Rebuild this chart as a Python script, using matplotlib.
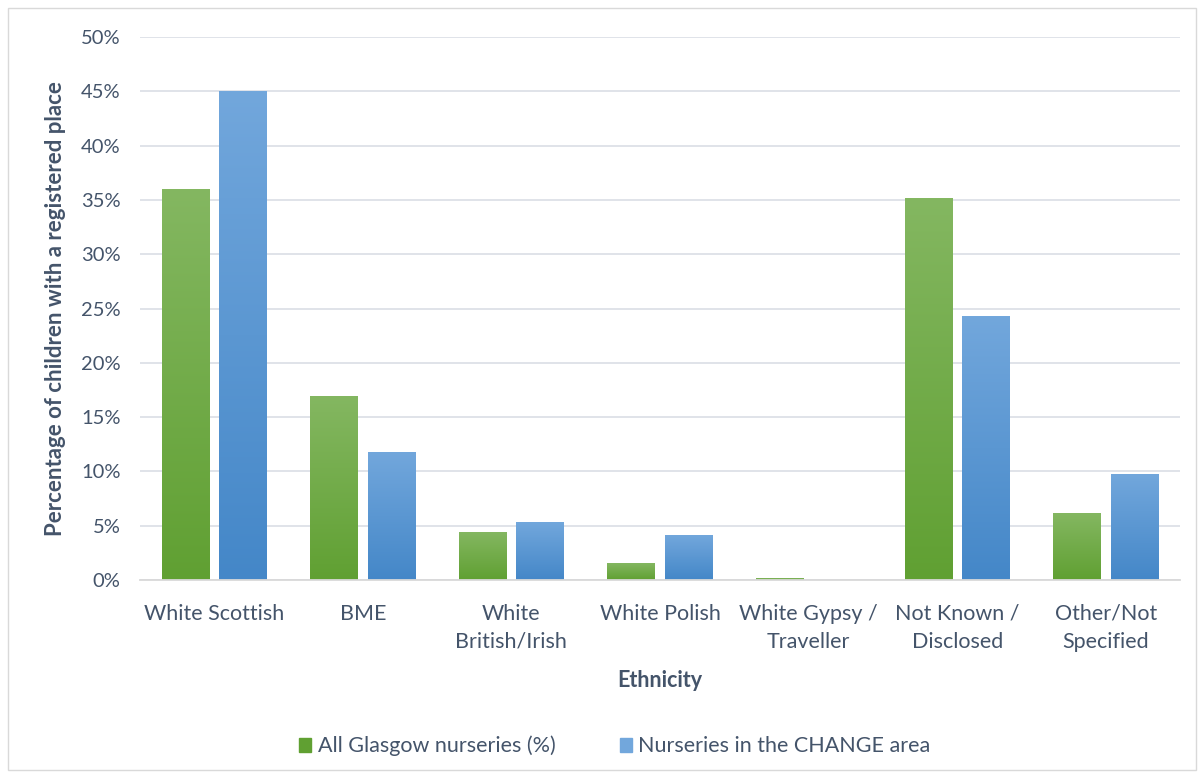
import matplotlib
matplotlib.use("Agg")
import matplotlib.pyplot as plt
import matplotlib.patches as mpatches
from matplotlib.colors import LinearSegmentedColormap
from matplotlib.ticker import FuncFormatter, MultipleLocator
import numpy as np

plt.rcParams["font.family"] = ["Lato", "DejaVu Sans"]

categories = [
    "White Scottish", "BME", "White\nBritish/Irish", "White Polish",
    "White Gypsy /\nTraveller", "Not Known /\nDisclosed", "Other/Not\nSpecified",
]
glasgow_pct = [36.0, 16.9, 4.4, 1.5, 0.1, 35.1, 6.1]
change_pct = [45.0, 11.7, 5.3, 4.1, 0.0, 24.3, 9.7]
series_names = ["All Glasgow nurseries (%)", "Nurseries in the CHANGE area"]

TEXT = "#44546A"
GRID = "#DDE1E7"
GREEN = ("#84B761", "#60A032")
BLUE = ("#72A7DC", "#4487C8")

fig = plt.figure(figsize=(12.04, 7.78), dpi=100)
ax = fig.add_axes([140 / 1204, 1 - 580 / 778, 1040 / 1204, 543 / 778])

x = np.arange(len(categories))
width = 0.32
gap = 0.067
offsets = [-(width + gap) / 2, (width + gap) / 2]

# vertical gradient fill, lighter at the top of each bar
grad = np.linspace(1, 0, 256).reshape(-1, 1)
for vals, off, cols, name in zip([glasgow_pct, change_pct], offsets, [GREEN, BLUE], series_names):
    cmap = LinearSegmentedColormap.from_list(name, [cols[1], cols[0]])
    bars = ax.bar(x + off, vals, width, color="none", edgecolor="none", zorder=2)
    for b in bars:
        h = b.get_height()
        if h <= 0:
            continue
        ax.imshow(grad, cmap=cmap, aspect="auto", zorder=2,
                  extent=[b.get_x(), b.get_x() + b.get_width(), 0, h],
                  vmin=0, vmax=1)

ax.set_xlim(-0.5, len(categories) - 0.5)
ax.set_ylim(0, 50)
ax.yaxis.set_major_locator(MultipleLocator(5))
ax.yaxis.set_major_formatter(FuncFormatter(lambda v, _: f"{v:.0f}%"))
ax.grid(axis="y", color=GRID, linewidth=1.3, zorder=0)
ax.set_axisbelow(True)
for s in ["top", "right", "left"]:
    ax.spines[s].set_visible(False)
ax.spines["bottom"].set_color("#D9D9D9")
ax.spines["bottom"].set_linewidth(1.3)
ax.spines["bottom"].set_zorder(3)
ax.tick_params(length=0, colors=TEXT)
ax.tick_params(axis="y", pad=14, labelsize=14.5)
ax.tick_params(axis="x", pad=17, labelsize=15.5)
ax.set_xticks(x)
ax.set_xticklabels(categories, linespacing=1.5)

ax.set_xlabel("Ethnicity", fontsize=15.5, fontweight="bold", color=TEXT, labelpad=13)
ax.set_ylabel("Percentage of children with a registered place", fontsize=16,
              fontweight="bold", color=TEXT, labelpad=11)

handles = [mpatches.Patch(color=GREEN[1], label=series_names[0]),
           mpatches.Patch(color=BLUE[0], label=series_names[1])]
fig.legend(handles=handles, loc="center", bbox_to_anchor=(615 / 1204, 1 - 746 / 778),
           ncol=2, frameon=False, fontsize=15.5, labelcolor=TEXT,
           handlelength=0.55, handleheight=0.6, handletextpad=0.3, columnspacing=3.0)

fig.patches.append(mpatches.Rectangle((8 / 1204, 8 / 778), 1188 / 1204, 762 / 778,
                                      transform=fig.transFigure, fill=False,
                                      edgecolor="#D9D9D9", linewidth=1))

fig.savefig("out.png", dpi=100)
